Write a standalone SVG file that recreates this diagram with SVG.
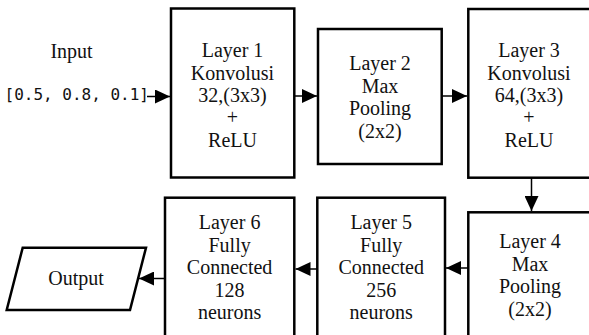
<svg xmlns="http://www.w3.org/2000/svg" width="589" height="335" viewBox="0 0 589 335">
<style>
.box{fill:#fff;stroke:#000;stroke-width:2.5}
.t{font-family:'Liberation Serif','DejaVu Serif',serif;font-size:20px;fill:#111;text-anchor:middle}
.mono{font-family:'DejaVu Sans Mono','Liberation Mono',monospace;font-size:16px;fill:#111}
.c{stroke:#000;stroke-width:1.5;fill:none;marker-end:url(#ah)}
</style>
<defs>
<marker id="ah" markerUnits="userSpaceOnUse" markerWidth="16" markerHeight="14" refX="15" refY="7" orient="auto">
<path d="M0,0 L15,7 L0,14 Z" fill="#000"/>
</marker>
</defs>
<rect width="589" height="335" fill="#fff"/>
<g id="input">
<text class="t" x="71.5" y="58">Input</text>
<text class="mono" x="4.5" y="100">[0.5, 0.8, 0.1]</text>
</g>
<g id="layer1">
<rect class="box" x="171" y="8.5" width="123.3" height="169"/>
<text class="t" x="232.5" y="57">Layer 1</text>
<text class="t" x="232.5" y="79.5">Konvolusi</text>
<text class="t" x="232.5" y="102">32,(3x3)</text>
<text class="t" x="232.5" y="124">+</text>
<text class="t" x="232.5" y="146.5">ReLU</text>
</g>
<g id="layer2">
<rect class="box" x="318" y="29" width="123.7" height="135"/>
<text class="t" x="380" y="70">Layer 2</text>
<text class="t" x="380" y="92.5">Max</text>
<text class="t" x="380" y="115">Pooling</text>
<text class="t" x="380" y="137.5">(2x2)</text>
</g>
<g id="layer3">
<rect class="box" x="468.3" y="9" width="124" height="168.7"/>
<text class="t" x="529" y="57">Layer 3</text>
<text class="t" x="529" y="79.5">Konvolusi</text>
<text class="t" x="529" y="102">64,(3x3)</text>
<text class="t" x="529" y="124">+</text>
<text class="t" x="529" y="146.5">ReLU</text>
</g>
<g id="layer4">
<rect class="box" x="468.3" y="212.3" width="124" height="130"/>
<text class="t" x="530" y="248">Layer 4</text>
<text class="t" x="530" y="270.5">Max</text>
<text class="t" x="530" y="293">Pooling</text>
<text class="t" x="530" y="315.5">(2x2)</text>
</g>
<g id="layer5">
<rect class="box" x="317.3" y="197.7" width="127.7" height="145"/>
<text class="t" x="381.2" y="229">Layer 5</text>
<text class="t" x="381.2" y="251.5">Fully</text>
<text class="t" x="381.2" y="274">Connected</text>
<text class="t" x="381.2" y="296.5">256</text>
<text class="t" x="381.2" y="319">neurons</text>
</g>
<g id="layer6">
<rect class="box" x="165" y="197.7" width="129.3" height="145"/>
<text class="t" x="229.6" y="229">Layer 6</text>
<text class="t" x="229.6" y="251.5">Fully</text>
<text class="t" x="229.6" y="274">Connected</text>
<text class="t" x="229.6" y="296.5">128</text>
<text class="t" x="229.6" y="319">neurons</text>
</g>
<g id="output">
<polygon class="box" points="22.7,247.7 146,247.7 130,310 6.7,310"/>
<text class="t" x="76" y="284.5">Output</text>
</g>
<g id="connectors">
<path class="c" d="M147,96.5 L170,96.5"/>
<path class="c" d="M294.5,96 L317,96"/>
<path class="c" d="M442,96 L467,96"/>
<path class="c" d="M531.5,177.7 L531.5,211"/>
<path class="c" d="M468.3,268 L446,268"/>
<path class="c" d="M317.3,269 L295.5,269"/>
<path class="c" d="M165,278.5 L139,278.5"/>
</g>
</svg>
